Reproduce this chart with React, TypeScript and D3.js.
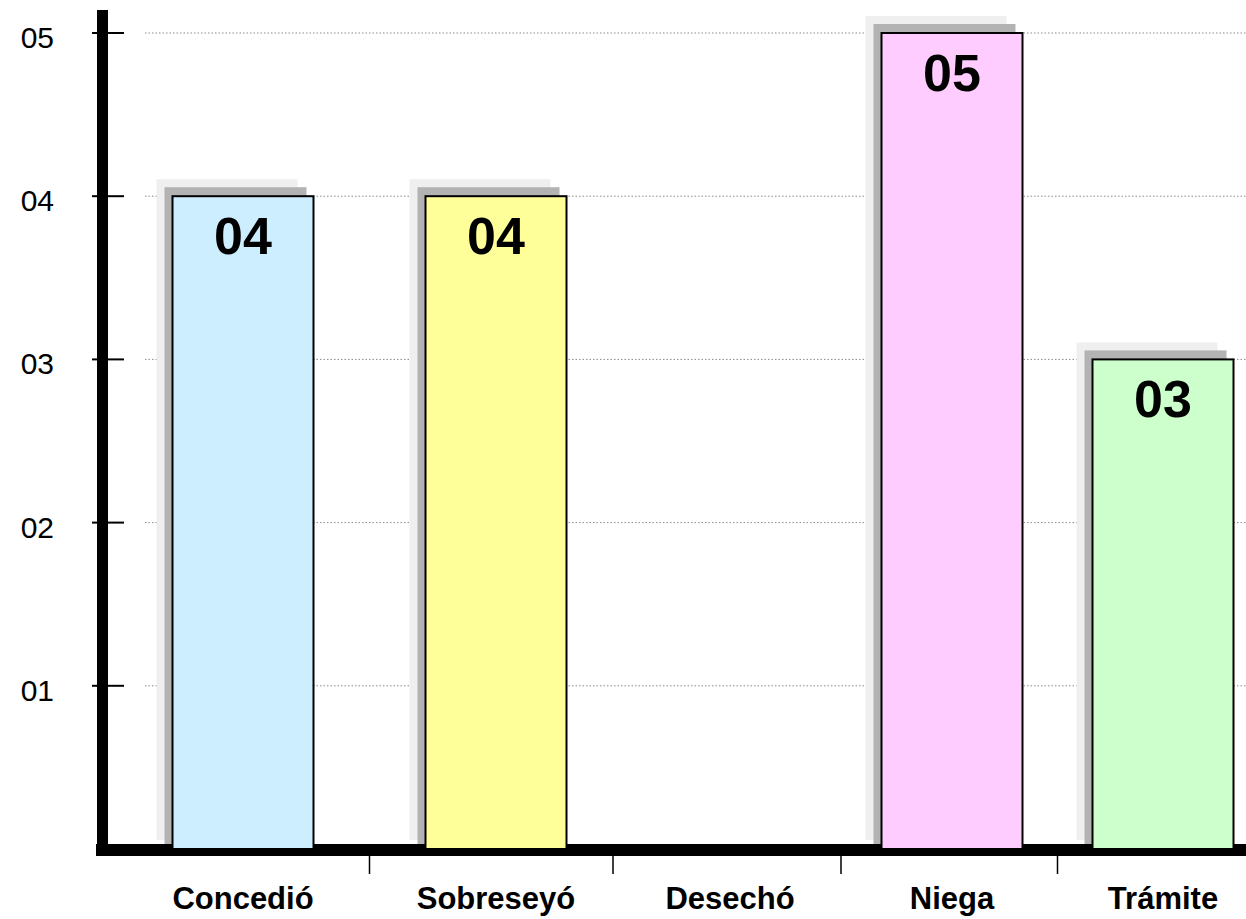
import * as d3 from "d3";
import React from "react";

const categories = ["Concedió", "Sobreseyó", "Desechó", "Niega", "Trámite"];
const values = [4, 4, 0, 5, 3];
const barColors = ["#cdeeff", "#ffff99", "#ffffff", "#ffccff", "#ccffcc"];
const yTicks = [1, 2, 3, 4, 5];

const WIDTH = 1246;
const HEIGHT = 919;
const BAR_W = 141;
const FONT = "Arial, 'Liberation Sans', sans-serif";

// slot centres along x (the original slots are not evenly spaced)
const slotCenters = [243, 496, 730, 952, 1163];

const Chart = () => {
  const y = d3.scaleLinear().domain([0, 5]).range([849, 33]);
  const x = d3.scaleLinear().domain(d3.range(slotCenters.length)).range(slotCenters);
  const fmt = d3.format("02d");

  const axisLeft = 97;
  const axisRight = WIDTH;

  // dotted grid lines
  const grid = yTicks.map((t) => (
    <line
      key={"g" + t}
      x1={145}
      x2={axisRight}
      y1={y(t)}
      y2={y(t)}
      stroke="#8a8a8a"
      strokeWidth={1}
      strokeDasharray="1.5,2"
    />
  ));

  // bars with their offset shadows
  const bars = values.map((v, i) => {
    if (v <= 0) return null;
    const cx = x(i);
    const x0 = cx - BAR_W / 2;
    const top = y(v);
    const h = y(0) - top;
    return (
      <g key={categories[i]}>
        <rect x={x0 - 16} y={top - 17} width={BAR_W} height={h + 8} fill="#efefef" />
        <rect x={x0 - 8} y={top - 9} width={BAR_W + 1} height={h + 4} fill="#b3b3b3" />
        <rect
          x={x0}
          y={top}
          width={BAR_W}
          height={h}
          fill={barColors[i]}
          stroke="#000"
          strokeWidth={2}
        />
        <text
          x={cx}
          y={top + 58}
          textAnchor="middle"
          fontFamily={FONT}
          fontWeight="bold"
          fontSize={52}
          fill="#000"
        >
          {fmt(v)}
        </text>
      </g>
    );
  });

  const yAxis = (
    <g>
      <rect x={axisLeft} y={10} width={11} height={y(0) - 4} fill="#000" />
      {yTicks.map((t) => (
        <g key={"t" + t}>
          <line x1={92} x2={124} y1={y(t)} y2={y(t)} stroke="#000" strokeWidth={2} />
          <text
            x={54}
            y={y(t) + 15}
            textAnchor="end"
            fontFamily={FONT}
            fontSize={30}
            fill="#000"
          >
            {fmt(t)}
          </text>
        </g>
      ))}
    </g>
  );

  const xAxis = (
    <g>
      <rect x={96} y={844} width={axisRight - 96} height={12} fill="#000" />
      {d3.range(1, categories.length).map((i) => (
        <line
          key={"s" + i}
          x1={x(i - 0.5)}
          x2={x(i - 0.5)}
          y1={855}
          y2={874}
          stroke="#000"
          strokeWidth={1.5}
        />
      ))}
      {categories.map((c, i) => (
        <text
          key={"l" + c}
          x={x(i)}
          y={909}
          textAnchor="middle"
          fontFamily={FONT}
          fontWeight="bold"
          fontSize={31}
          fill="#000"
        >
          {c}
        </text>
      ))}
    </g>
  );

  return (
    <svg width={WIDTH} height={HEIGHT} style={{ display: "block", background: "#fff" }}>
      {grid}
      {xAxis}
      {bars}
      {yAxis}
    </svg>
  );
};

export default function App() {
  return (
    <div style={{ position: "absolute", left: 0, top: 0 }}>
      <Chart />
    </div>
  );
}
